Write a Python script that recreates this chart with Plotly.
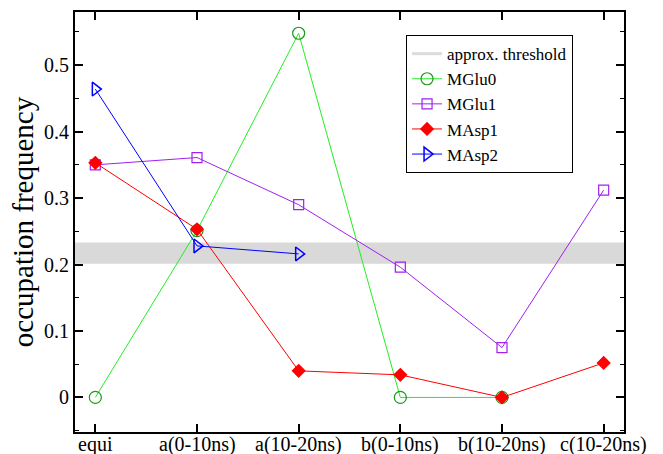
import plotly.graph_objects as go

categories = ["equi", "a(0-10ns)", "a(10-20ns)", "b(0-10ns)", "b(10-20ns)", "c(10-20ns)"]
mglu0 = [0.0, 0.251, 0.548, 0.0, 0.0, None]
mglu1 = [0.350, 0.361, 0.290, 0.196, 0.075, 0.312]
masp1 = [0.353, 0.253, 0.040, 0.034, 0.0, 0.052]
masp2 = [0.464, 0.228, 0.216, None, None, None]
threshold_low = 0.201
threshold_high = 0.233

FONT = "'Liberation Serif', 'Times New Roman', Times, serif"
x = list(range(len(categories)))

fig = go.Figure()

# threshold band
fig.add_shape(type="rect", xref="paper", yref="y", x0=0, x1=1,
              y0=threshold_low, y1=threshold_high,
              fillcolor="#d9d9d9", line=dict(width=0), layer="below")
fig.add_trace(go.Scatter(x=[None], y=[None], mode="lines", name="approx. threshold",
                         line=dict(color="#dcdcdc", width=3)))

fig.add_trace(go.Scatter(x=x, y=mglu0, mode="lines+markers", name="MGlu0",
                         line=dict(color="#22ee22", width=1),
                         marker=dict(symbol="circle-open", size=12, color="#1a9a1a",
                                     line=dict(width=1.2))))
fig.add_trace(go.Scatter(x=x, y=mglu1, mode="lines+markers", name="MGlu1",
                         line=dict(color="#a020f0", width=1),
                         marker=dict(symbol="square-open", size=10, color="#a020f0",
                                     line=dict(width=1.2))))
fig.add_trace(go.Scatter(x=x, y=masp1, mode="lines+markers", name="MAsp1",
                         line=dict(color="#ff0000", width=1),
                         marker=dict(symbol="diamond", size=11, color="#ff0000")))
fig.add_trace(go.Scatter(x=x, y=masp2, mode="lines+markers", name="MAsp2",
                         line=dict(color="#0000ff", width=1),
                         marker=dict(symbol="triangle-right-open", size=12, color="#0000ff",
                                     line=dict(width=1.5))))

# category labels under the x axis
for xi, lab in zip(x, categories):
    fig.add_annotation(x=xi, xref="x", y=0, yref="paper", text=lab,
                       showarrow=False, xanchor="center", yanchor="top", yshift=1,
                       font=dict(family=FONT, size=20, color="black"))

fig.update_layout(
    width=663, height=454,
    margin=dict(l=75, r=39, t=12, b=22, autoexpand=False),
    paper_bgcolor="white", plot_bgcolor="white",
    font=dict(family=FONT, color="black", size=20),
    showlegend=True,
    legend=dict(x=0.603, y=0.945, xanchor="left", yanchor="top",
                bordercolor="black", borderwidth=1, bgcolor="white",
                font=dict(family=FONT, size=17), tracegroupgap=0,
                itemwidth=30),
)
fig.update_xaxes(
    range=[-0.2, 5.2], tickmode="array", tickvals=x, showticklabels=False,
    showgrid=False, zeroline=False, showline=True, linecolor="black", linewidth=2,
    mirror="ticks", ticks="inside", ticklen=8, tickwidth=1.5, tickcolor="black",
    automargin=False,
)
fig.update_yaxes(
    range=[-0.052, 0.58], tickmode="array", tickvals=[0, 0.1, 0.2, 0.3, 0.4, 0.5],
    ticktext=["0", "0.1", "0.2", "0.3", "0.4", "0.5"],
    showgrid=False, zeroline=False, showline=True, linecolor="black", linewidth=2,
    mirror="ticks", ticks="inside", ticklen=8, tickwidth=1.5, tickcolor="black",
    minor=dict(ticks="inside", dtick=0.05, tick0=0, ticklen=4, tickwidth=1, tickcolor="black",
               showgrid=False),
    tickfont=dict(family=FONT, size=20), automargin=False,
    title=dict(text="occupation frequency", font=dict(family=FONT, size=29), standoff=2),
)

fig.write_html("out.html")
